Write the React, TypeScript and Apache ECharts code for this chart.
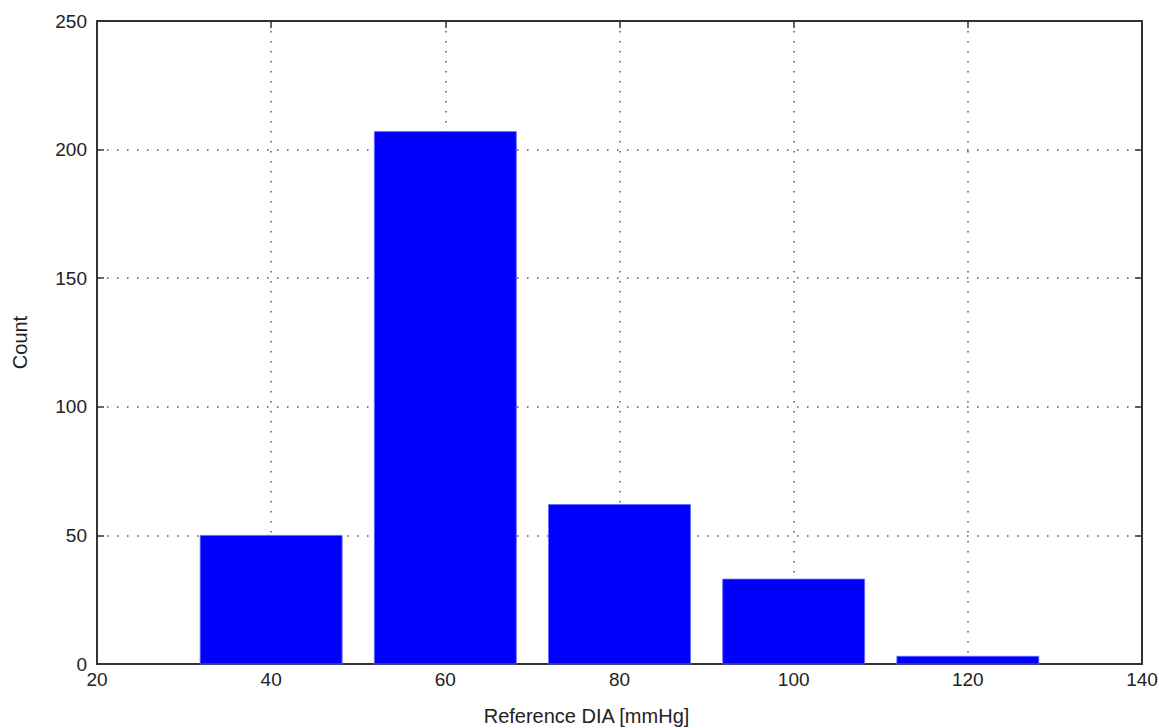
import React, { useEffect, useRef } from "react";
import * as echarts from "echarts";

const binCenters = [40, 60, 80, 100, 120];
const counts = [50, 207, 62, 33, 3];
const xTicks = [20, 40, 60, 80, 100, 120, 140];
const yTicks = [0, 50, 100, 150, 200, 250];

const BAR_HALF = 8.15;
const FONT = "'Liberation Sans', Arial, sans-serif";
const FRAME = "#333333";
const GRIDC = "#555555";

export default function App() {
  const ref = useRef<HTMLDivElement>(null);
  useEffect(() => {
    document.body.style.margin = "0";
    const chart = echarts.init(ref.current!, null, { renderer: "svg" });
    const data = binCenters.map((c, i) => [c, counts[i]]);
    const splitLine = { show: true, lineStyle: { color: GRIDC, width: 1.5, type: [1.5, 8.5] as any } };
    const labelStyle = { color: "#222", fontSize: 19, fontFamily: FONT };
    chart.setOption({
      animation: false,
      backgroundColor: "#ffffff",
      grid: { left: 97, right: 17, top: 21, bottom: 64, containLabel: false, outerBoundsMode: "none" },
      xAxis: [
        {
          type: "value",
          min: xTicks[0],
          max: xTicks[xTicks.length - 1],
          interval: 20,
          position: "bottom",
          name: "Reference DIA [mmHg]",
          nameLocation: "middle",
          nameGap: 42,
          nameTextStyle: { color: "#222", fontSize: 20, fontFamily: FONT, padding: [0, 66, 0, 0] },
          axisLine: { show: true, onZero: false, lineStyle: { color: FRAME, width: 2 } },
          axisTick: { show: true, inside: true, length: 7, lineStyle: { color: FRAME, width: 1.5 } },
          axisLabel: { ...labelStyle, margin: 6 },
          splitLine,
        },
        {
          type: "value",
          min: xTicks[0],
          max: xTicks[xTicks.length - 1],
          interval: 20,
          position: "top",
          axisLine: { show: true, onZero: false, lineStyle: { color: FRAME, width: 2 } },
          axisTick: { show: true, inside: true, length: 7, lineStyle: { color: FRAME, width: 1.5 } },
          axisLabel: { show: false },
          splitLine: { show: false },
        },
      ],
      yAxis: [
        {
          type: "value",
          min: yTicks[0],
          max: yTicks[yTicks.length - 1],
          interval: 50,
          position: "left",
          name: "Count",
          nameLocation: "middle",
          nameGap: 67,
          nameTextStyle: { color: "#222", fontSize: 20, fontFamily: FONT },
          axisLine: { show: true, onZero: false, lineStyle: { color: FRAME, width: 2 } },
          axisTick: { show: true, inside: true, length: 7, lineStyle: { color: FRAME, width: 1.5 } },
          axisLabel: { ...labelStyle, margin: 10 },
          splitLine,
        },
        {
          type: "value",
          min: yTicks[0],
          max: yTicks[yTicks.length - 1],
          interval: 50,
          position: "right",
          axisLine: { show: true, onZero: false, lineStyle: { color: FRAME, width: 2 } },
          axisTick: { show: true, inside: true, length: 7, lineStyle: { color: FRAME, width: 1.5 } },
          axisLabel: { show: false },
          splitLine: { show: false },
        },
      ],
      series: [
        {
          type: "custom",
          xAxisIndex: 0,
          yAxisIndex: 0,
          data,
          z: 5,
          renderItem: (params: any, api: any) => {
            const c = api.value(0);
            const v = api.value(1);
            const p1 = api.coord([c - BAR_HALF, v]);
            const p2 = api.coord([c + BAR_HALF, 0]);
            return {
              type: "rect",
              shape: { x: p1[0], y: p1[1], width: p2[0] - p1[0], height: p2[1] - p1[1] },
              style: { fill: "#0000ff", stroke: "#6666ff", lineWidth: 0.8 },
            };
          },
        },
      ],
    });
    return () => chart.dispose();
  }, []);
  return <div ref={ref} style={{ width: 1159, height: 728 }} />;
}
